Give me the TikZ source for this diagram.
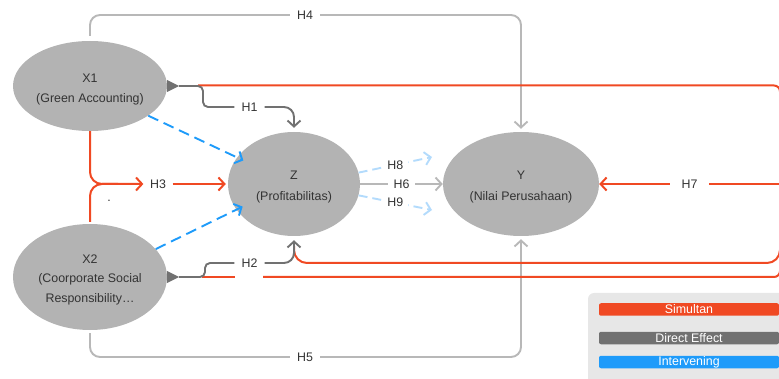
\documentclass[tikz,border=0pt]{standalone}
\usepackage{fontspec}
\setmainfont{Liberation Sans}
\usetikzlibrary{arrows.meta,shapes.geometric}
\definecolor{cred}{HTML}{F04923}
\definecolor{cdg}{HTML}{717171}
\definecolor{clg}{HTML}{B8B8B8}
\definecolor{cell}{HTML}{B3B3B3}
\definecolor{cblue}{HTML}{1E9BFA}
\definecolor{clblue}{HTML}{B3DBFC}
\definecolor{clegbg}{HTML}{E7E7E7}
\definecolor{ctext}{HTML}{333333}
\begin{document}
\begin{tikzpicture}[x=1pt,y=-1pt,
  every node/.style={font=\fontsize{12.4}{20}\selectfont, text=ctext},
  ell/.style={ellipse, fill=cell, inner sep=0pt, align=center},
  hlbl/.style={inner xsep=7pt, inner ysep=2pt},
  onlbl/.style={fill=white, inner xsep=5pt, inner ysep=1pt},
  arr/.style={-{Straight Barb[length=6pt,width=13pt]}},
  redl/.style={draw=cred, line width=2pt},
  dgl/.style={draw=cdg, line width=1.9pt},
  lgl/.style={draw=clg, line width=1.9pt},
  bll/.style={draw=cblue, line width=1.9pt, dash pattern=on 11pt off 6pt},
  lbll/.style={draw=clblue, line width=1.9pt, dash pattern=on 9pt off 5pt},
  legbar/.style={minimum width=180pt, minimum height=12.5pt, inner sep=0pt, rounded corners=2pt, text=white}
]
\useasboundingbox (0,0) rectangle (779,379);

% legend background
\fill[clegbg, rounded corners=6pt] (588,293) rectangle (800,400);
\node[legbar, fill=cred] (L1) at (689,309.5) {Simultan};
\node[legbar, fill=cdg] (L2) at (689,338) {Direct Effect};
\node[legbar, fill=cblue] (L3) at (689,362) {Intervening};

% main nodes
\node[ell, minimum width=154pt, minimum height=90pt, text height=35.8pt] (X1) at (90,86) {X1\\(Green Accounting)};
\node[ell, minimum width=154pt, minimum height=106pt, text height=52.8pt, font=\fontsize{12.4}{19.5}\selectfont] (X2) at (90,277) {X2\\(Coorporate Social\\Responsibility…};
\node[ell, minimum width=132pt, minimum height=104pt, text height=34.8pt, font=\fontsize{12.4}{21}\selectfont] (Z) at (294,184) {Z\\(Profitabilitas)};
\node[ell, minimum width=156pt, minimum height=104pt, text height=34.8pt, font=\fontsize{12.4}{21}\selectfont] (Y) at (521,184) {Y\\(Nilai Perusahaan)};

% label nodes
\node[hlbl] (H4) at (305,15) {H4};
\node[hlbl] (H5) at (305,357) {H5};
\node[hlbl] (H1) at (249.5,107) {H1};
\node[hlbl] (H2) at (249.5,263) {H2};
\node[hlbl, inner xsep=6.5pt] (H3) at (158,184) {H3};
\node[hlbl, inner xsep=11.5pt] (H7) at (689.5,184) {H7};
\node[inner sep=0pt] (dot) at (109,201) {.};

% helper coordinates
\coordinate (t1) at ([xshift=12pt]X1.east);
\coordinate (t2) at ([xshift=12pt]X2.east);
\coordinate (r1) at (198,85.5);
\coordinate (r2) at (202,277);
\coordinate (r2b) at (235,277);
\coordinate (r2c) at (263,277);
\coordinate (rj) at (780,184);
\coordinate (rb) at (780,263);
\coordinate (m3) at (118,184);
\coordinate (h8e) at (432,157);
\coordinate (h9e) at (432,210);

% H4, H5
\draw[lgl, shorten <=5pt, rounded corners=10pt] (X1.north) |- (H4.west);
\draw[lgl, arr, shorten >=3pt, rounded corners=10pt] (H4.east) -| (Y.north);
\draw[lgl, shorten <=3pt, rounded corners=10pt] (X2.south) |- (H5.west);
\draw[lgl, arr, shorten >=3pt, rounded corners=10pt] (H5.east) -| (Y.south);

% red simultan lines
\draw[redl, rounded corners=6pt] (r1) -| (rj);
\draw[redl] (r2) -- (r2b);
\draw[redl, rounded corners=6pt] (r2c) -| (rj);
\draw[redl, rounded corners=13pt] ([yshift=-10pt]Z.south) |- (rb) -- (rj);
\draw[redl] (rj) -- (H7.east);
\draw[redl, arr] (H7.west) -- (Y.east);

% H3
\draw[redl, rounded corners=12pt] ([yshift=2pt]X2.north) |- (m3);
\draw[redl, arr, rounded corners=12pt] (X1.south) |- (H3.west);
\draw[redl, arr, shorten >=2pt] (H3.east) -- (Z.west);

% H1, H2 (direct)
\draw[dgl, rounded corners=5pt] (t1) -- (203,86) |- (H1.west);
\draw[dgl, arr, shorten >=4pt, rounded corners=10pt] (H1.east) -| (Z.north);
\draw[dgl, rounded corners=5pt] (t2) -- (205,277) |- (H2.west);
\draw[dgl, arr, shorten >=4pt, rounded corners=10pt] (H2.east) -| (Z.south);
\fill[cdg] ([yshift=6pt]X1.east) -- (t1) -- ([yshift=-6pt]X1.east) -- cycle;
\fill[cdg] ([yshift=6pt]X2.east) -- (t2) -- ([yshift=-6pt]X2.east) -- cycle;

% intervening
\draw[bll, arr, shorten >=-7pt] (X1.-27) -- (Z.155);
\draw[bll, arr, shorten >=-7pt] (X2.23) -- (Z.204);

% H6, H8, H9
\draw[lbll, arr] (Z.10) -- node[onlbl] (H8) {H8} (h8e);
\draw[lgl, arr] (Z.east) -- node[onlbl, inner xsep=6pt] (H6) {H6} (Y.west);
\draw[lbll, arr] (Z.-10) -- node[onlbl] (H9) {H9} (h9e);
\end{tikzpicture}
\end{document}
